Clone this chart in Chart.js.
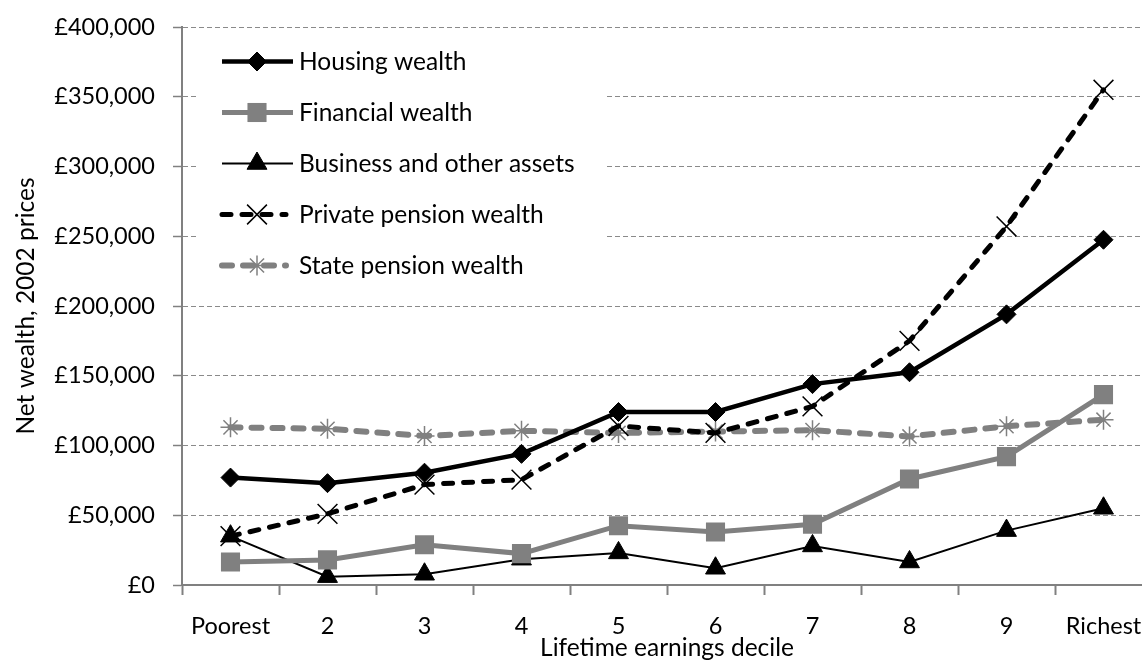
<!DOCTYPE html>
<html>
<head>
<meta charset="utf-8">
<script src="https://cdn.jsdelivr.net/npm/chart.js@4/dist/chart.umd.min.js"></script>
<style>
  html, body { margin: 0; padding: 0; background: #fff; overflow: hidden; }
  #wrap { width: 1142px; height: 663px; overflow: hidden; }
</style>
</head>
<body>
<div id="wrap"><canvas id="chart" width="1152" height="663" style="display:block;width:1152px;height:663px"></canvas></div>
<script>
// lifetime earnings deciles
const deciles = ['Poorest', '2', '3', '4', '5', '6', '7', '8', '9', 'Richest'];
// net wealth, £ (2002 prices)
const housingWealth   = [77000, 73000, 80500, 94000, 124000, 124000, 144000, 152500, 194000, 247500];
const financialWealth = [16500, 18000, 28800, 22500, 42500, 38000, 43500, 76000, 92000, 136500];
const businessAssets  = [35000, 6000, 7700, 18500, 23000, 12000, 28000, 16500, 39000, 55000];
const privatePension  = [35000, 51000, 72000, 75500, 114000, 109000, 128000, 175000, 257000, 355000];
const statePension    = [113000, 112000, 106800, 110500, 109000, 110000, 111000, 106500, 113800, 118500];
const yTicks = [0, 50000, 100000, 150000, 200000, 250000, 300000, 350000, 400000];

const FONT = 'Lato';
const GREY = '#808080';

// legend drawn inside the plot, on a white box
const insideLegend = {
  id: 'insideLegend',
  afterDraw(chart) {
    const ctx = chart.ctx;
    ctx.save();
    ctx.fillStyle = '#fff';
    ctx.fillRect(196, 33, 408, 267);
    chart.data.datasets.forEach((ds, i) => {
      const y = 61.5 + i * 51;
      ctx.lineWidth = ds.borderWidth;
      ctx.strokeStyle = ds.borderColor;
      ctx.lineCap = ds.borderCapStyle || 'butt';
      ctx.setLineDash(ds.borderDash || []);
      ctx.beginPath();
      ctx.moveTo(222, y);
      ctx.lineTo(ds.borderDash ? 286 : 293, y);
      ctx.stroke();
      ctx.setLineDash([]);
      ctx.lineCap = 'butt';
      ctx.fillStyle = ds.pointBackgroundColor;
      ctx.strokeStyle = ds.pointBorderColor;
      ctx.lineWidth = ds.pointBorderWidth;
      Chart.helpers.drawPoint(ctx, {
        pointStyle: ds.pointStyle, radius: ds.pointRadius,
        borderWidth: ds.pointBorderWidth, rotation: 0
      }, 257, y);
      ctx.fillStyle = '#000';
      ctx.font = '24.5px ' + FONT;
      ctx.textBaseline = 'middle';
      ctx.textAlign = 'left';
      ctx.fillText(ds.label, 299, y + 1);
    });
    ctx.restore();
  }
};

new Chart(document.getElementById('chart'), {
  type: 'line',
  data: {
    labels: deciles,
    datasets: [
      {
        label: 'Housing wealth', data: housingWealth,
        borderColor: '#000', borderWidth: 4.5,
        pointStyle: 'rectRot', pointRadius: 9.5,
        pointBackgroundColor: '#000', pointBorderColor: '#000', pointBorderWidth: 1
      },
      {
        label: 'Financial wealth', data: financialWealth,
        borderColor: GREY, borderWidth: 5,
        pointStyle: 'rect', pointRadius: 13.5,
        pointBackgroundColor: GREY, pointBorderColor: GREY, pointBorderWidth: 0
      },
      {
        label: 'Business and other assets', data: businessAssets,
        borderColor: '#000', borderWidth: 2,
        pointStyle: 'triangle', pointRadius: 11.5,
        pointBackgroundColor: '#000', pointBorderColor: '#000', pointBorderWidth: 1
      },
      {
        label: 'Private pension wealth', data: privatePension,
        borderColor: '#000', borderWidth: 5, borderDash: [9, 11], borderCapStyle: 'round',
        pointStyle: 'crossRot', pointRadius: 14,
        pointBackgroundColor: '#000', pointBorderColor: '#000', pointBorderWidth: 1.5
      },
      {
        label: 'State pension wealth', data: statePension,
        borderColor: GREY, borderWidth: 6, borderDash: [10, 11], borderCapStyle: 'round',
        pointStyle: 'star', pointRadius: 10,
        pointBackgroundColor: GREY, pointBorderColor: GREY, pointBorderWidth: 1.5
      }
    ]
  },
  options: {
    responsive: false,
    animation: false,
    layout: { autoPadding: false, padding: { top: 27, right: 0, left: 0, bottom: 0 } },
    plugins: { legend: { display: false }, tooltip: { enabled: false } },
    elements: { line: { tension: 0, fill: false } },
    scales: {
      x: {
        offset: true,
        grid: {
          offset: true, drawOnChartArea: false, drawTicks: true,
          tickLength: 10, tickColor: GREY, tickWidth: 2, tickBorderDash: []
        },
        border: { color: GREY, width: 2 },
        ticks: { color: '#000', font: { family: FONT, size: 23.5 }, padding: 17, maxRotation: 0, autoSkip: false },
        title: {
          display: true, text: 'Lifetime earnings decile', color: '#000',
          font: { family: FONT, size: 24.5 }, padding: { top: 0, bottom: 0 }
        },
        afterFit(scale) {
          scale.height = 78;
          scale.paddingLeft = 0;
          scale.paddingRight = 0;
        }
      },
      y: {
        min: 0, max: 400000,
        afterBuildTicks(scale) { scale.ticks = yTicks.map(v => ({ value: v })); },
        grid: {
          color: '#8a8a8a', lineWidth: 1, drawTicks: true,
          tickLength: 9, tickColor: GREY, tickWidth: 1.5, tickBorderDash: []
        },
        border: { color: GREY, width: 2, dash: [5, 3] },
        ticks: {
          color: '#000', font: { family: FONT, size: 23.5 }, padding: 18,
          callback: v => '£' + Number(v).toLocaleString('en-GB')
        },
        title: {
          display: true, text: 'Net wealth, 2002 prices', color: '#000',
          font: { family: FONT, size: 24.5 }, padding: { top: 11, bottom: 0 }
        },
        afterFit(scale) {
          scale.width = 182;
          scale.paddingTop = 0;
          scale.paddingBottom = 0;
        }
      }
    }
  },
  plugins: [insideLegend]
});
</script>
</body>
</html>
